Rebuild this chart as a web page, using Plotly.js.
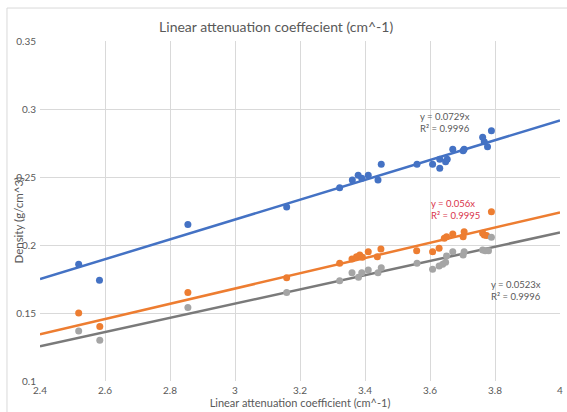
<!DOCTYPE html>
<html>
<head>
<meta charset="utf-8">
<script src="https://cdn.plot.ly/plotly-3.0.1.min.js"></script>
<style>
html,body{margin:0;padding:0;background:#fff;}
#chart{width:567px;height:412px;}
</style>
</head>
<body>
<div id="chart"></div>
<script>
// Series 1 (blue)
const blueX = [2.519,2.583,2.855,3.159,3.322,3.361,3.379,3.390,3.410,3.440,3.450,3.560,3.608,3.630,3.630,3.648,3.653,3.670,3.702,3.705,3.762,3.767,3.777,3.789];
const blueY = [0.1858,0.174,0.215,0.228,0.2421,0.2478,0.2513,0.249,0.2513,0.2478,0.2593,0.2593,0.2593,0.263,0.2564,0.2613,0.263,0.2704,0.2693,0.2704,0.2792,0.276,0.2723,0.284];
// Series 2 (orange)
const orangeX = [2.519,2.584,2.855,3.159,3.322,3.360,3.374,3.384,3.392,3.410,3.438,3.449,3.559,3.608,3.628,3.644,3.651,3.670,3.702,3.705,3.762,3.767,3.774,3.789];
const orangeY = [0.150,0.140,0.165,0.176,0.1865,0.1897,0.1914,0.1926,0.191,0.1951,0.1914,0.197,0.1958,0.1951,0.1976,0.205,0.206,0.2081,0.206,0.2098,0.2086,0.2074,0.2069,0.2245];
// Series 3 (gray)
const grayX = [2.519,2.584,2.855,3.159,3.322,3.360,3.380,3.390,3.410,3.440,3.450,3.560,3.608,3.628,3.639,3.648,3.651,3.670,3.702,3.705,3.762,3.770,3.780,3.789];
const grayY = [0.1368,0.130,0.154,0.165,0.1738,0.1796,0.1762,0.1796,0.1816,0.1796,0.1833,0.1865,0.1821,0.1846,0.1858,0.1873,0.1919,0.1951,0.1926,0.1951,0.1963,0.1958,0.1958,0.2057];

// Trendline slopes (through origin) and R² as shown
const slopes = [0.0729, 0.056, 0.0523];
const r2 = ["0.9996", "0.9995", "0.9996"];
const trendRange = [2.4, 4];

const xTickVals = [2.4,2.6,2.8,3,3.2,3.4,3.6,3.8,4];
const xTickText = ["2.4","2.6","2.8","3","3.2","3.4","3.6","3.8","4"];
const yTickVals = [0.1,0.15,0.2,0.25,0.3,0.35];
const yTickText = ["0.1","0.15","0.2","0.25","0.3","0.35"];

const markerColors = ["#4472C4", "#ED7D31", "#A5A5A5"];
const lineColors = ["#4472C4", "#ED7D31", "#7A7A7A"];
const annColors = ["#595959", "#D9334A", "#595959"];
const FONT = "Lato, 'Open Sans', sans-serif";

const xs = [blueX, orangeX, grayX];
const ys = [blueY, orangeY, grayY];

const traces = [];
for (let i = 0; i < 3; i++) {
  traces.push({
    x: trendRange, y: trendRange.map(v => slopes[i] * v),
    mode: "lines", type: "scatter", hoverinfo: "skip",
    line: {color: lineColors[i], width: 2.5}, showlegend: false
  });
}
for (let i = 0; i < 3; i++) {
  traces.push({
    x: xs[i], y: ys[i], mode: "markers", type: "scatter",
    marker: {color: markerColors[i], size: 7}, showlegend: false
  });
}

const annPos = [[3.563, 0.2902], [3.597, 0.2263], [3.782, 0.1668]];
const annotations = [];
for (let i = 0; i < 3; i++) {
  annotations.push({
    x: annPos[i][0], y: annPos[i][1], xref: "x", yref: "y",
    text: "y = " + slopes[i] + "x<br>R² = " + r2[i],
    showarrow: false, xanchor: "left", yanchor: "middle", align: "left",
    font: {family: FONT, size: 9.5, color: annColors[i]}
  });
}
// y-axis title placed as in the reference (overlapping the 0.25 tick label)
annotations.push({
  x: -0.041, y: 0.474, xref: "paper", yref: "paper", xanchor: "center", yanchor: "middle",
  text: "Density (g/cm^3)", textangle: -90, showarrow: false,
  font: {family: FONT, size: 11.5, color: "#595959"}
});

const layout = {
  width: 567, height: 412,
  margin: {l: 40, r: 7, t: 41, b: 31, pad: 0},
  paper_bgcolor: "#ffffff", plot_bgcolor: "#ffffff",
  font: {family: FONT, color: "#595959"},
  title: {text: "Linear attenuation coeffecient (cm^-1)", font: {family: FONT, size: 14, color: "#595959"},
          x: 0.487, xanchor: "center", y: 0.935, yanchor: "middle"},
  xaxis: {
    range: [2.4, 4], tickvals: xTickVals, ticktext: xTickText,
    showgrid: true, gridcolor: "#D9D9D9", gridwidth: 1, zeroline: false,
    showline: false, ticks: "", tickfont: {size: 10, color: "#595959"}, ticklabelstandoff: 2,
    title: {text: "Linear attenuation coefficient (cm^-1)", font: {size: 11, color: "#595959"}, standoff: 1}
  },
  yaxis: {
    range: [0.1, 0.35], tickvals: yTickVals, ticktext: yTickText,
    showgrid: true, gridcolor: "#D9D9D9", gridwidth: 1, zeroline: false,
    showline: false, ticks: "", tickfont: {size: 10, color: "#595959"}, ticklabelstandoff: 3
  },
  annotations: annotations,
  shapes: [{type: "rect", xref: "paper", yref: "paper", x0: -0.0635, x1: 1.2, y0: -0.3, y1: 1.097,
            line: {color: "#D9D9D9", width: 1}, fillcolor: "rgba(0,0,0,0)", layer: "below"}]
};

Plotly.newPlot("chart", traces, layout, {displayModeBar: false, staticPlot: true});
</script>
</body>
</html>
